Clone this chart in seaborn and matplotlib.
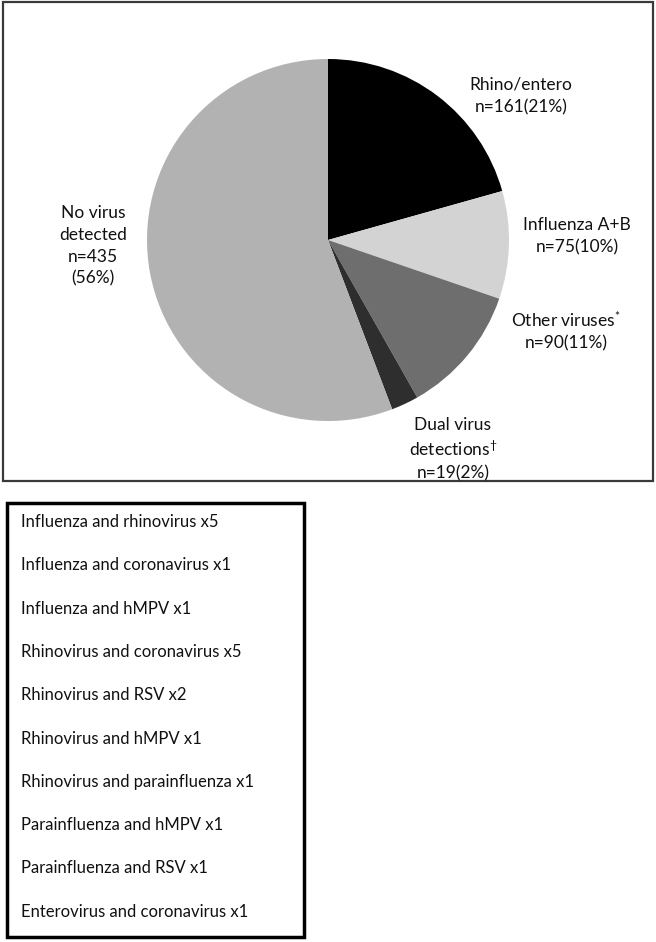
import matplotlib
matplotlib.use("Agg")
import matplotlib.pyplot as plt
import seaborn as sns
from matplotlib.patches import Rectangle

# slice data, clockwise from 12 o'clock
CATEGORIES = ["Rhino/entero", "Influenza A+B", "Other viruses", "Dual virus detections", "No virus detected"]
COUNTS = [161, 75, 90, 19, 435]
COLORS = ["#000000", "#d3d3d3", "#6e6e6e", "#2e2e2e", "#b2b2b2"]
LABELS = [
    "Rhino/entero\nn=161(21%)",
    "Influenza A+B\nn=75(10%)",
    r"Other viruses$^{*}$" + "\nn=90(11%)",
    "Dual virus\n" + r"detections$^{\dagger}$" + "\nn=19(2%)",
    "No virus\ndetected\nn=435\n(56%)",
]
# label anchor points in pixels (x, y from top)
LABEL_POS = [(521, 96), (577, 236), (566, 331), (453, 449), (93, 246)]

DUAL_DETECTIONS = [
    "Influenza and rhinovirus x5",
    "Influenza and coronavirus x1",
    "Influenza and hMPV x1",
    "Rhinovirus and coronavirus x5",
    "Rhinovirus and RSV x2",
    "Rhinovirus and hMPV x1",
    "Rhinovirus and parainfluenza x1",
    "Parainfluenza and hMPV x1",
    "Parainfluenza and RSV x1",
    "Enterovirus and coronavirus x1",
]

W, H = 656, 942


def main():
    sns.set_theme(style="white")
    plt.rcParams["font.family"] = ["Lato", "DejaVu Sans"]
    plt.rcParams["mathtext.fontset"] = "custom"
    plt.rcParams["mathtext.rm"] = "Lato"
    plt.rcParams["mathtext.it"] = "Lato"
    plt.rcParams["mathtext.default"] = "regular"

    fig = plt.figure(figsize=(W / 100, H / 100), dpi=100)

    # pie: centre (328, 240), radius 181 px
    cx, cy, r = 328, 240, 181
    ax = fig.add_axes([(cx - r) / W, (H - cy - r) / H, 2 * r / W, 2 * r / H])
    ax.pie(COUNTS, colors=COLORS, startangle=90, counterclock=False, radius=1,
           wedgeprops=dict(linewidth=0))
    ax.set_xlim(-1, 1)
    ax.set_ylim(-1, 1)
    ax.set_aspect("equal")
    ax.axis("off")

    # overlay in pixel coordinates for frames and text
    ov = fig.add_axes([0, 0, 1, 1], zorder=-1)
    ov.set_xlim(0, W)
    ov.set_ylim(H, 0)
    ov.axis("off")
    ov.patch.set_alpha(0)

    ov.add_patch(Rectangle((3, 2), 650, 479, fill=False, edgecolor="#3a3a3a", linewidth=1.6))
    for text, (x, y) in zip(LABELS, LABEL_POS):
        ov.text(x, y, text, ha="center", va="center", fontsize=12.5, color="#111111",
                linespacing=1.45)

    ov2 = fig.add_axes([0, 0, 1, 1], zorder=2)
    ov2.set_xlim(0, W)
    ov2.set_ylim(H, 0)
    ov2.axis("off")
    ov2.patch.set_alpha(0)
    ov2.add_patch(Rectangle((7, 503), 297, 434, fill=False, edgecolor="black", linewidth=2.5))
    for i, line in enumerate(DUAL_DETECTIONS):
        ov2.text(21, 522 + i * 43.3, line, ha="left", va="center", fontsize=12, color="#111111")

    fig.savefig("out.png", dpi=100)


if __name__ == "__main__":
    main()
